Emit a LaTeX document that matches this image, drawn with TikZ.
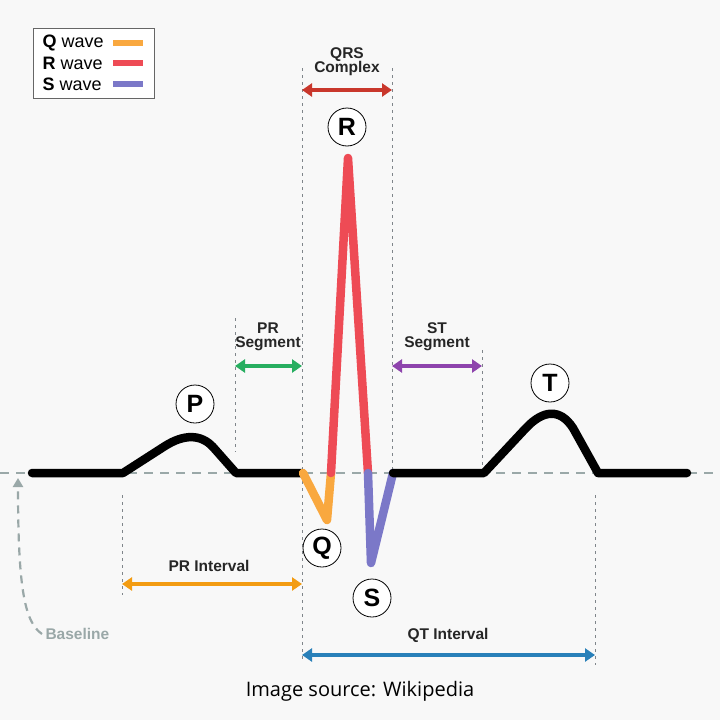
\documentclass[tikz,border=0pt]{standalone}
\usepackage{fontspec}
\setmainfont{Liberation Sans}
\newfontfamily\capfont{Open Sans}
\usetikzlibrary{arrows.meta}
\definecolor{bg}{HTML}{F8F8F8}
\definecolor{qcol}{HTML}{F9A83F}
\definecolor{rcol}{HTML}{EE4B55}
\definecolor{scol}{HTML}{7B78C8}
\definecolor{qrscol}{HTML}{C9372C}
\definecolor{prscol}{HTML}{27AE60}
\definecolor{stcol}{HTML}{8E44AD}
\definecolor{pricol}{HTML}{F39C12}
\definecolor{qtcol}{HTML}{2980B9}
\definecolor{basecol}{HTML}{9AA8A8}
\definecolor{guidecol}{HTML}{7F858A}
\tikzset{
  trace/.style={line width=8.5pt, line cap=round, line join=round},
  guide/.style={guidecol, line width=1pt, dash pattern=on 3pt off 4pt},
  measure/.style={line width=3.5pt, {Triangle[length=10pt,width=13pt]}-{Triangle[length=10pt,width=13pt]}},
  lab/.style={font=\bfseries\fontsize{15.5}{16}\selectfont, align=center, text=black!85},
  wavelbl/.style={circle, draw=black, line width=0.8pt, fill=white, minimum size=38pt, inner sep=0pt, font=\bfseries\fontsize{25}{25}\selectfont},
}
\begin{document}
\begin{tikzpicture}[x=1pt,y=-1pt]
\useasboundingbox (0,0) rectangle (720,720);
\fill[bg] (0,0) rectangle (720,720);

% baseline
\draw[basecol, line width=1.6pt, dash pattern=on 9pt off 7pt] (0,473) -- (720,473);

% guides
\draw[guide] (302,68) -- (302,662);
\draw[guide] (392,68) -- (392,470);
\draw[guide] (235,318) -- (235,452);
\draw[guide] (482,350) -- (482,468);
\draw[guide] (122,495) -- (122,595);
\draw[guide] (595,495) -- (595,665);

% trace
\draw[trace, black] (32,473) -- (123,473) -- (165,446) .. controls (184,434) and (201,434) .. (213,447) -- (236,473) -- (302,473);
\draw[trace, qcol] (303,473) -- (327,520) -- (331,473);
\draw[trace, rcol] (331,473) -- (348,158) -- (368,473);
\draw[trace, scol] (368,473) -- (371,563) -- (393,473);
\draw[trace, black] (393,473) -- (484,473) -- (526,428) .. controls (543,410) and (560,408) .. (573,428) -- (598,473) -- (687,473);

% measurement endpoints
\coordinate (qrsL) at (302,90); \coordinate (qrsR) at (392,90);
\coordinate (prsL) at (235,366); \coordinate (prsR) at (302,366);
\coordinate (stL) at (392,366); \coordinate (stR) at (482,366);
\coordinate (priL) at (122,584); \coordinate (priR) at (302,584);
\coordinate (qtL) at (302,655); \coordinate (qtR) at (595,655);

\draw[measure, qrscol] (qrsL) -- (qrsR);
\draw[measure, prscol] (prsL) -- (prsR);
\draw[measure, stcol] (stL) -- (stR);
\draw[measure, pricol] (priL) -- (priR);
\draw[measure, qtcol] (qtL) -- (qtR);

\node[lab] (qrslab) at (347,62) {QRS\\[-2pt]Complex};
\node[lab] (prslab) at (268,337) {PR\\[-2pt]Segment};
\node[lab] (stlab) at (437,337) {ST\\[-2pt]Segment};
\node[lab] (prilab) at (209,566) {PR Interval};
\node[lab] (qtlab) at (448,635) {QT Interval};

% wave labels
\node[wavelbl] (P) at (195,404) {P};
\node[wavelbl] (R) at (347,127) {R};
\node[wavelbl] (Q) at (322,548) {Q};
\node[wavelbl] (S) at (372,598) {S};
\node[wavelbl] (T) at (550,383) {T};

% baseline label
\node[font=\bfseries\fontsize{15.5}{16}\selectfont, text=basecol, anchor=west] (bl) at (42,634) {Baseline};
\coordinate (bltip) at (18,478);
\draw[basecol, line width=2.2pt, dash pattern=on 8pt off 6pt, -{Triangle[length=9pt,width=10pt]}] (bl.west) .. controls (24,622) and (18,585) .. (bltip);

% legend
\node[draw=black!60, line width=0.8pt, fill=white, minimum width=121pt, minimum height=70pt, anchor=north west] (leg) at (33,28) {};
\node[anchor=west, font=\fontsize{18}{18}\selectfont] (lq) at (39,43) {\textbf{Q} wave};
\node[anchor=west, font=\fontsize{18}{18}\selectfont] (lr) at (39,63) {\textbf{R} wave};
\node[anchor=west, font=\fontsize{18}{18}\selectfont] (ls) at (39,84) {\textbf{S} wave};
\draw[qcol, line width=6.5pt] (113,43) -- (143,43);
\draw[rcol, line width=6.5pt] (113,63) -- (143,63);
\draw[scol, line width=6.5pt] (113,84) -- (143,84);

% caption
\node[font=\capfont\fontsize{20}{21}\selectfont] (cap) at (360,691) {Image source: Wikipedia};
\end{tikzpicture}
\end{document}
